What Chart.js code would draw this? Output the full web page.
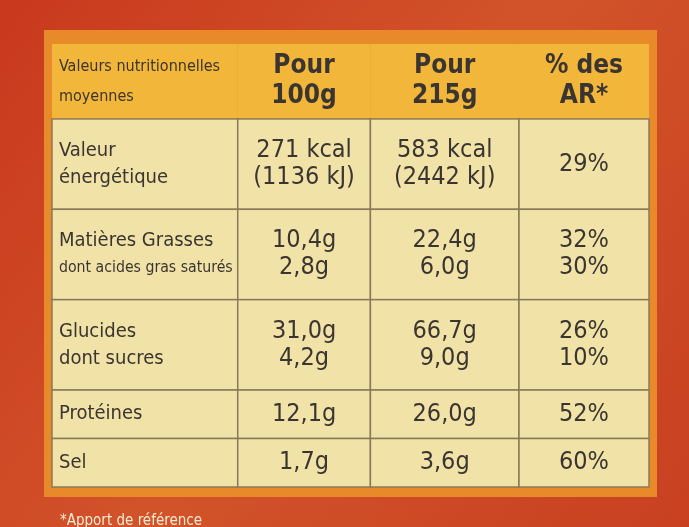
<!DOCTYPE html>
<html><head><meta charset="utf-8">
<script src="https://cdn.jsdelivr.net/npm/chart.js@4"></script>
<style>html,body{margin:0;padding:0;background:#c8401e}canvas{display:block}</style>
</head><body>
<div style="width:689px;height:527px"><canvas id="c"></canvas></div>
<script>
const headers = [["Valeurs nutritionnelles","moyennes"],["Pour","100g"],["Pour","215g"],["% des","AR*"]];
const rowLabels = [["Valeur","énergétique"],["Matières Grasses","dont acides gras saturés"],["Glucides","dont sucres"],["Protéines"],["Sel"]];
const per100 = [["271 kcal","(1136 kJ)"],["10,4g","2,8g"],["31,0g","4,2g"],["12,1g"],["1,7g"]];
const per215 = [["583 kcal","(2442 kJ)"],["22,4g","6,0g"],["66,7g","9,0g"],["26,0g"],["3,6g"]];
const pctAR = [["29%"],["32%","30%"],["26%","10%"],["52%"],["60%"]];
const colWeights = [1.4, 1, 1.12, 0.98];

const rowsAll = [headers.map(h=>h), ...rowLabels.map((l,i)=>[l,per100[i],per215[i],pctAR[i]])];
const rowH = rowsAll.map((r,i)=> i===0?1.7:(Math.max(...r.map(c=>c.length))===2?2.05:1.1));
const yEdges=[0]; rowH.forEach(h=>yEdges.push(yEdges[yEdges.length-1]+h));
const xEdges=[0]; colWeights.forEach(w=>xEdges.push(xEdges[xEdges.length-1]+w));

const tablePlugin={id:'tbl',
 beforeDraw(ch){const c=ch.ctx,W=ch.width,H=ch.height;
  const g=c.createLinearGradient(0,0,W,H);g.addColorStop(0,'#c9391d');g.addColorStop(0.5,'#d2532a');g.addColorStop(1,'#c84020');
  c.fillStyle=g;c.fillRect(0,0,W,H);
  const xs=ch.scales.x,ys=ch.scales.y;
  const X=v=>xs.getPixelForValue(v),Y=v=>ys.getPixelForValue(v);
  c.fillStyle='#e98a2a';c.fillRect(X(0)-8,Y(0)-14,X(xEdges.at(-1))-X(0)+16,Y(yEdges.at(-1))-Y(0)+24);
  rowsAll.forEach((row,ri)=>{
   row.forEach((cell,ci)=>{
    const x0=X(xEdges[ci]),x1=X(xEdges[ci+1]),y0=Y(yEdges[ri]),y1=Y(yEdges[ri+1]);
    c.fillStyle= ri===0?'#f2b63a':'#f1e2a8';
    c.fillRect(x0,y0,x1-x0,y1-y0);
    c.strokeStyle='#8a7a5a';c.lineWidth=1.5;
    if(ri>0)c.strokeRect(x0,y0,x1-x0,y1-y0);
    const lines=cell.length, lh=(ri===0?30:27);
    const mid=(y0+y1)/2;
    cell.forEach((t,li)=>{
     const ty=mid+(li-(lines-1)/2)*lh;
     c.fillStyle='#3a3530';c.textBaseline='middle';
     if(ci===0){
      const small=(ri===0)|| t.startsWith('dont acides');
      c.font=(small?'16px':'20px')+' "DejaVu Sans Condensed",sans-serif';
      c.textAlign='left';c.fillText(t,x0+7,ty,x1-x0-12);
     } else {
      c.font=(ri===0?'bold 26px':'25px')+' "DejaVu Sans Condensed",sans-serif';
      c.textAlign='center';c.fillText(t,(x0+x1)/2,ty,x1-x0-8);
     }
    });
   });
  });
  c.fillStyle='#f4ead0';c.font='15px "DejaVu Sans Condensed",sans-serif';c.textAlign='left';c.textBaseline='alphabetic';
  c.fillText('*Apport de référence',60,H-2);
 }};

new Chart(document.getElementById('c'),{
 type:'scatter',data:{datasets:[{data:[]}]},
 options:{responsive:true,maintainAspectRatio:false,animation:false,
  layout:{padding:{left:52,right:40,top:44,bottom:40}},
  plugins:{legend:{display:false},tooltip:{enabled:false}},
  scales:{x:{type:'linear',min:0,max:xEdges.at(-1),display:false},
          y:{type:'linear',min:0,max:yEdges.at(-1),reverse:true,display:false}}},
 plugins:[tablePlugin]});
</script></body></html>
